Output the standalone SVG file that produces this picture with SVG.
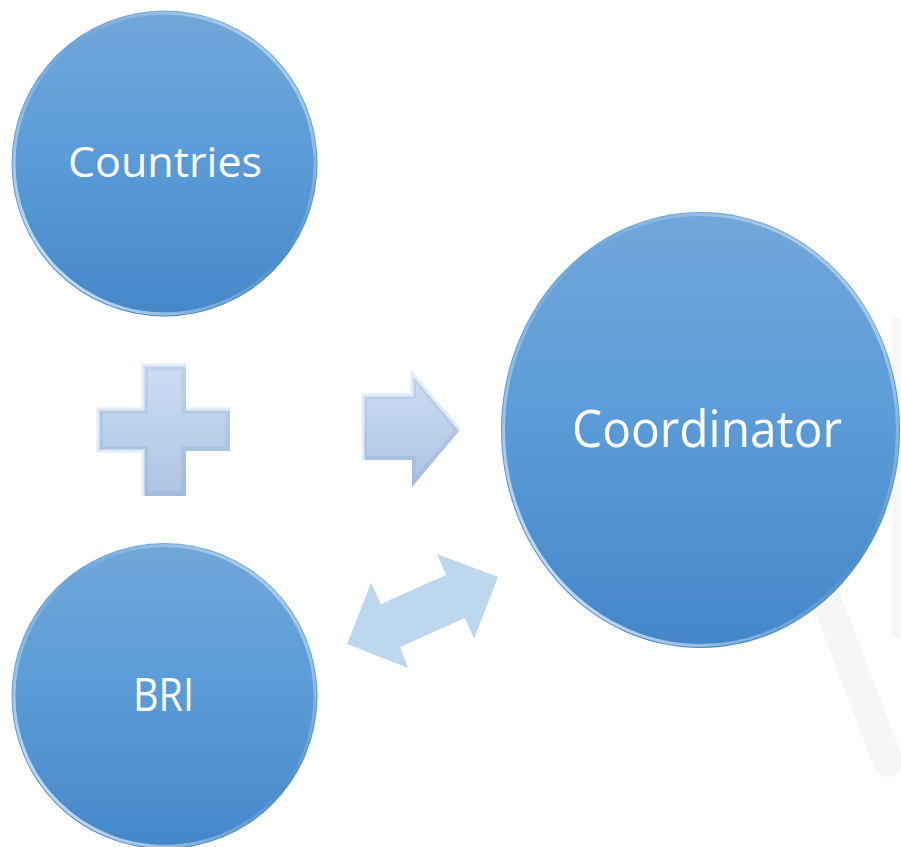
<svg xmlns="http://www.w3.org/2000/svg" width="901" height="847" viewBox="0 0 901 847">
  <style>
    .lbl { font-family: "Open Sans", "Noto Sans", "DejaVu Sans", sans-serif; fill: #ffffff; text-anchor: middle; }
  </style>
  <defs>
    <linearGradient id="ballFill" x1="0" y1="0" x2="0" y2="1">
      <stop offset="0" stop-color="#71a7da"/>
      <stop offset="0.45" stop-color="#5c9cd8"/>
      <stop offset="1" stop-color="#4487c9"/>
    </linearGradient>
    <linearGradient id="rimGrad2" x1="0" y1="1" x2="1" y2="0">
      <stop offset="0" stop-color="#ffffff" stop-opacity="0.95"/>
      <stop offset="0.3" stop-color="#ffffff" stop-opacity="0.35"/>
      <stop offset="0.55" stop-color="#ffffff" stop-opacity="0"/>
      <stop offset="0.8" stop-color="#ffffff" stop-opacity="0.35"/>
      <stop offset="1" stop-color="#ffffff" stop-opacity="0.6"/>
    </linearGradient>
    <linearGradient id="bevelFace" x1="0" y1="0" x2="0" y2="1">
      <stop offset="0" stop-color="#cadcf1"/>
      <stop offset="1" stop-color="#afc5e4"/>
    </linearGradient>
    <linearGradient id="bevelDark" x1="0" y1="0" x2="0" y2="1">
      <stop offset="0" stop-color="#bfd3ed"/>
      <stop offset="1" stop-color="#a3badd"/>
    </linearGradient>
  </defs>

  <rect width="901" height="847" fill="#ffffff"/>

  <!-- faint reflection behind the coordinator -->
  <g id="reflection">
    <rect x="892" y="318" width="9" height="320" fill="#f7f7f7"/>
    <line x1="826" y1="598" x2="888" y2="762" stroke="#f6f6f6" stroke-width="30" stroke-linecap="round"/>
  </g>

  <g id="node-countries">
    <circle cx="164.5" cy="163.5" r="153" fill="url(#ballFill)"/>
    <circle cx="164.5" cy="163.5" r="150.5" fill="none" stroke="url(#rimGrad2)" stroke-width="3"/>
    <text class="lbl" x="165" y="177" font-size="42" textLength="194" lengthAdjust="spacingAndGlyphs">Countries</text>
  </g>

  <g id="node-bri">
    <circle cx="164.5" cy="696" r="153" fill="url(#ballFill)"/>
    <circle cx="164.5" cy="696" r="150.5" fill="none" stroke="url(#rimGrad2)" stroke-width="3"/>
    <text class="lbl" x="163.5" y="711" font-size="46" textLength="61" lengthAdjust="spacingAndGlyphs">BRI</text>
  </g>

  <g id="node-coordinator">
    <ellipse cx="700.5" cy="430" rx="199.5" ry="218" fill="url(#ballFill)"/>
    <ellipse cx="700.5" cy="430" rx="197" ry="215.5" fill="none" stroke="url(#rimGrad2)" stroke-width="3"/>
    <text class="lbl" x="707" y="447" font-size="52" textLength="270" lengthAdjust="spacingAndGlyphs">Coordinator</text>
  </g>

  <g id="connectors">
    <!-- plus sign -->
    <g id="plus">
      <polygon points="143,365 186,365 186,409 230,409 230,451 186,451 186,496 143,496 143,451 98,451 98,409 143,409" fill="url(#bevelDark)"/>
      <polyline points="143,496 143,451 98,451 98,409 143,409 143,365 186,365" fill="none" stroke="#e2ecf8" stroke-width="3"/>
      <polyline points="186,409 230,409" fill="none" stroke="#e2ecf8" stroke-width="3"/>
      <polygon points="148,370 181,370 181,414 225,414 225,446 181,446 181,491 148,491 148,446 103,446 103,414 148,414" fill="url(#bevelFace)"/>
    </g>
    <!-- right arrow -->
    <g id="arrow-right">
      <polygon points="363,395 412,395 412,373 460,430 412,487 412,460 363,460" fill="url(#bevelDark)"/>
      <polyline points="363,460 363,395 412,395 412,373 460,430" fill="none" stroke="#e2ecf8" stroke-width="3"/>
      <polygon points="367,399 416,399 416,384 454,430 416,476 416,456 367,456" fill="url(#bevelFace)"/>
    </g>
    <!-- double arrow -->
    <polygon id="arrow-both" points="347,644 371,583 381,604 446,575 437,554 498,577 474,639 465,618 400,647 408,668" fill="#bdd7ee"/>
  </g>
</svg>
